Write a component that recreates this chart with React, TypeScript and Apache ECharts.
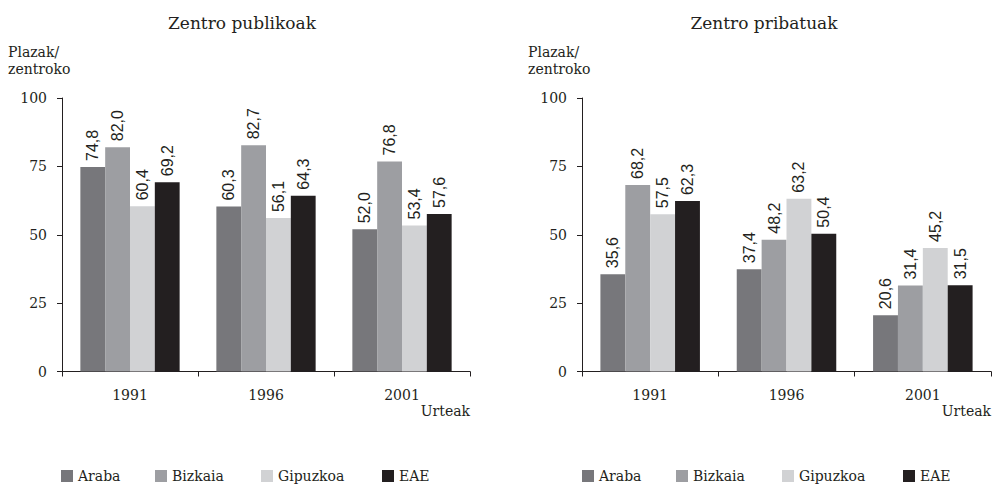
import React, { useEffect, useRef } from "react";
import * as echarts from "echarts";

const years = ["1991", "1996", "2001"];
const regions = ["Araba", "Bizkaia", "Gipuzkoa", "EAE"];
const colors = ["#77777b", "#9d9ea2", "#d1d2d4", "#231f20"];

const publicAraba = [74.8, 60.3, 52.0];
const publicBizkaia = [82.0, 82.7, 76.8];
const publicGipuzkoa = [60.4, 56.1, 53.4];
const publicEAE = [69.2, 64.3, 57.6];

const privateAraba = [35.6, 37.4, 20.6];
const privateBizkaia = [68.2, 48.2, 31.4];
const privateGipuzkoa = [57.5, 63.2, 45.2];
const privateEAE = [62.3, 50.4, 31.5];

const titles = ["Zentro publikoak", "Zentro pribatuak"];
const yAxisName = "Plazak/\nzentroko";
const xAxisName = "Urteak";

const TXT = "#231f20";
const SERIF = "'DejaVu Serif', serif";
const SANS = "'Liberation Sans', Arial, sans-serif";

export default function App() {
  const ref = useRef<HTMLDivElement>(null);
  useEffect(() => {
    if (!ref.current) return;
    const chart = echarts.init(ref.current, undefined, { renderer: "svg" });
    const grids = [
      { left: 62, top: 98, width: 408, height: 273.5 },
      { left: 582, top: 98, width: 409, height: 273.5 },
    ];
    const dataSets = [
      [publicAraba, publicBizkaia, publicGipuzkoa, publicEAE],
      [privateAraba, privateBizkaia, privateGipuzkoa, privateEAE],
    ];
    const series: any[] = [];
    dataSets.forEach((sets, gi) => {
      sets.forEach((vals, si) => {
        series.push({
          type: "bar",
          name: regions[si],
          xAxisIndex: gi,
          yAxisIndex: gi,
          data: vals,
          barGap: "0%",
          barCategoryGap: "27%",
          itemStyle: { color: colors[si] },
          label: {
            show: true,
            position: "top",
            rotate: 90,
            align: "left",
            verticalAlign: "middle",
            distance: 6,
            fontFamily: SANS,
            fontSize: 16,
            color: TXT,
            formatter: (p: any) => p.value.toFixed(1).replace(".", ","),
          },
        });
      });
    });
    const legendOffsets = [0, 94, 200, 321];
    const legendStarts = [61, 582];
    const legends: any[] = [];
    legendStarts.forEach((ls) => {
      regions.forEach((r, i) => {
        legends.push({
          data: [r],
          left: ls + legendOffsets[i],
          top: 469,
          icon: "rect",
          itemWidth: 12,
          itemHeight: 12,
          itemGap: 5,
          padding: 0,
          textStyle: { fontFamily: SERIF, fontSize: 14, color: TXT },
        });
      });
    });
    const axisStyle = { lineStyle: { color: TXT, width: 1 } };
    chart.setOption({
      animation: false,
      title: [
        {
          text: titles[0],
          left: 237,
          top: 9,
          textAlign: "center",
          textStyle: { fontFamily: SERIF, fontSize: 17, fontWeight: "normal", color: TXT },
        },
        {
          text: titles[1],
          left: 759,
          top: 9,
          textAlign: "center",
          textStyle: { fontFamily: SERIF, fontSize: 17, fontWeight: "normal", color: TXT },
        },
      ],
      legend: legends,
      grid: grids,
      xAxis: [0, 1].map((i) => ({
        type: "category",
        gridIndex: i,
        data: years,
        axisLine: axisStyle,
        axisTick: { show: true, length: 5, lineStyle: { color: TXT } },
        axisLabel: { fontFamily: SERIF, fontSize: 14, color: TXT, margin: 16 },
      })),
      yAxis: [0, 1].map((i) => ({
        type: "value",
        gridIndex: i,
        min: 0,
        max: 100,
        interval: 25,
        splitLine: { show: false },
        axisLine: { show: true, ...axisStyle },
        axisTick: { show: true, length: 5, lineStyle: { color: TXT } },
        axisLabel: { fontFamily: SERIF, fontSize: 14, color: TXT, margin: 15 },
      })),
      graphic: [
        {
          type: "text",
          left: 8,
          top: 43,
          style: { text: yAxisName, font: `14px ${SERIF}`, fill: TXT, lineHeight: 17 },
        },
        {
          type: "text",
          left: 528,
          top: 43,
          style: { text: yAxisName, font: `14px ${SERIF}`, fill: TXT, lineHeight: 17 },
        },
        {
          type: "text",
          right: 1000 - 470,
          top: 404,
          style: { text: xAxisName, font: `14px ${SERIF}`, fill: TXT },
        },
        {
          type: "text",
          right: 1000 - 991,
          top: 404,
          style: { text: xAxisName, font: `14px ${SERIF}`, fill: TXT },
        },
      ],
      series,
    });
    return () => chart.dispose();
  }, []);
  return <div ref={ref} style={{ width: 1000, height: 486, position: "absolute", left: 0, top: 0 }} />;
}
